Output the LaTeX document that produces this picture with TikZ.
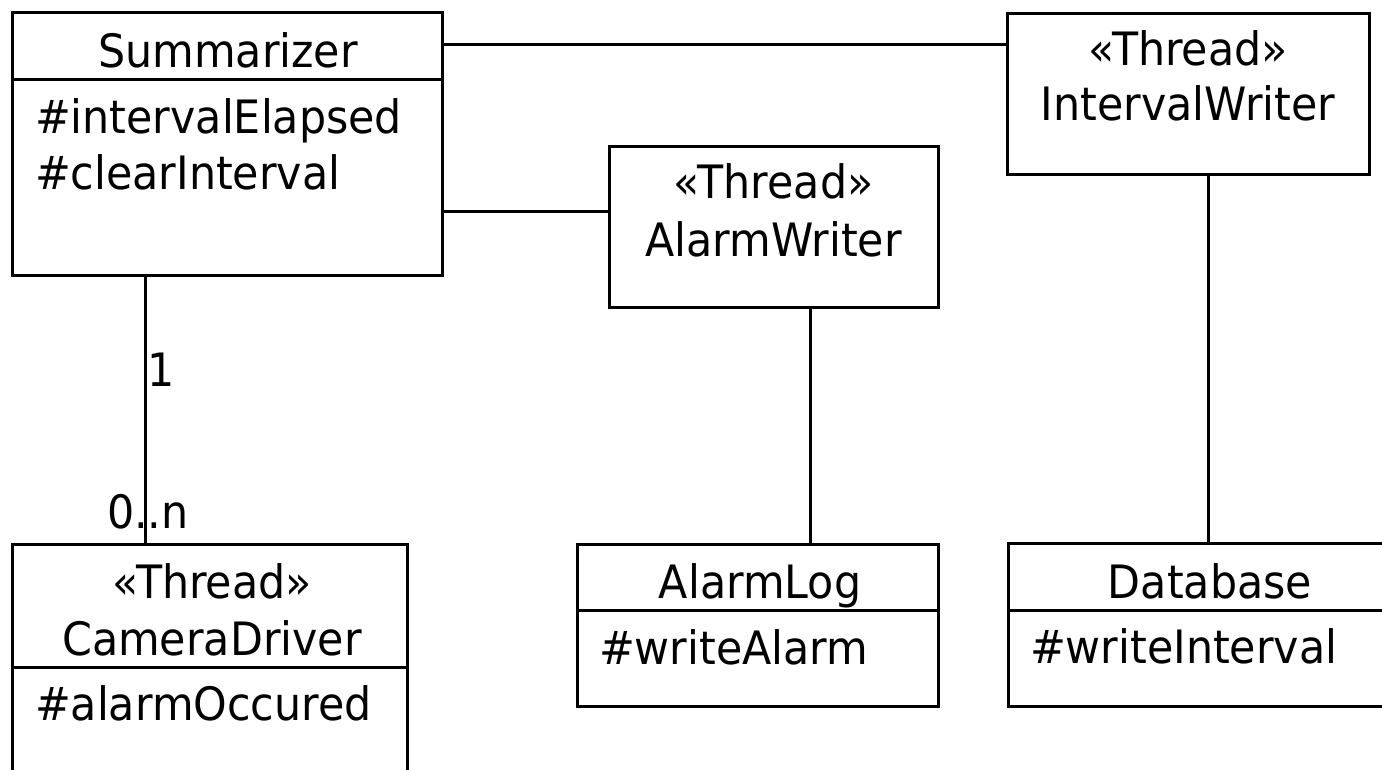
\documentclass[tikz,border=0pt]{standalone}
\usepackage{fontspec}
\setmainfont{DejaVu Sans}[FakeStretch=0.93]
\begin{document}
\begin{tikzpicture}[x=1pt,y=-1pt,
  box/.style={draw, line width=3pt, inner sep=0pt, outer sep=0pt},
  txt/.style={inner sep=0pt, outer sep=0pt, font=\fontsize{46}{55}\selectfont, anchor=base},
  attr/.style={txt, anchor=base west},
  conn/.style={line width=3pt}]
\useasboundingbox (0,0) rectangle (1382,769);
\clip (0,0) rectangle (1382,769);
% boxes
\node[box, minimum width=430pt, minimum height=263pt] (sum) at (227,143.5) {};
\node[box, minimum width=362pt, minimum height=161pt] (iw) at (1188,93.5) {};
\node[box, minimum width=329pt, minimum height=161pt] (aw) at (773.5,226.5) {};
\node[box, minimum width=395pt, minimum height=276pt] (cd) at (209.5,682) {};
\node[box, minimum width=361pt, minimum height=162pt] (al) at (757.5,625) {};
\node[box, minimum width=412pt, minimum height=163pt] (db) at (1214,624.5) {};
% dividers
\draw[conn] (sum.west |- 0,79) -- (sum.east |- 0,79);
\draw[conn] (cd.west |- 0,667) -- (cd.east |- 0,667);
\draw[conn] (al.west |- 0,610) -- (al.east |- 0,610);
\draw[conn] (db.west |- 0,610) -- (db.east |- 0,610);
% texts
\node[txt] (sumT) at (228,67) {Summarizer};
\node[attr] (sumA1) at (35,133) {\#intervalElapsed};
\node[attr] (sumA2) at (35,189) {\#clearInterval};
\node[txt] (iwS) at (1188,65) {«Thread»};
\node[txt] (iwT) at (1188,120) {IntervalWriter};
\node[txt] (awS) at (773.5,198) {«Thread»};
\node[txt] (awT) at (773.5,256) {AlarmWriter};
\node[txt] (cdS) at (212,598) {«Thread»};
\node[txt] (cdT) at (212,655) {CameraDriver};
\node[attr] (cdA) at (35,720) {\#alarmOccured};
\node[txt] (alT) at (760,598) {AlarmLog};
\node[attr] (alA) at (599,664) {\#writeAlarm};
\node[txt] (dbT) at (1210,598) {Database};
\node[attr] (dbA) at (1030,663) {\#writeInterval};
% connectors
\draw[conn] (sum.east |- 0,44) -- (iw.west |- 0,44);
\draw[conn] (sum.east |- 0,211) -- (aw.west |- 0,211);
\draw[conn] (145,0 |- sum.south) -- (145,0 |- cd.north);
\draw[conn] (810,0 |- aw.south) -- (810,0 |- al.north);
\draw[conn] (1208,0 |- iw.south) -- (1208,0 |- db.north);
% multiplicities
\node[attr] (one) at (147,386) {1};
\node[attr] (zn) at (107,528) {0..n};
\end{tikzpicture}
\end{document}
